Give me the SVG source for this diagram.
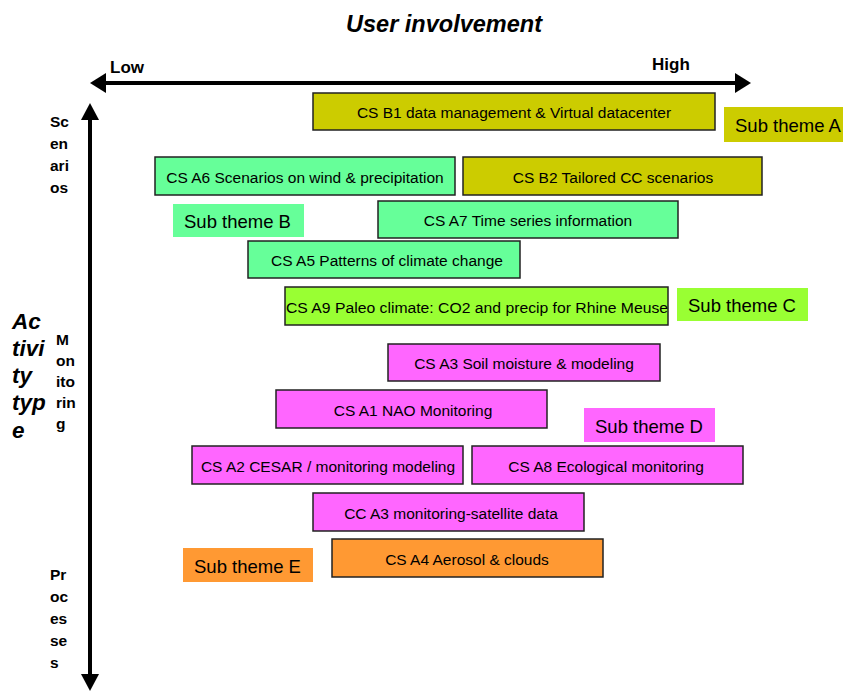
<svg xmlns="http://www.w3.org/2000/svg" width="843" height="693" viewBox="0 0 843 693">
<style>
text{font-family:"Liberation Sans",Arial,sans-serif;fill:#000}
.box{stroke:#222;stroke-width:1.5}
.bt{font-size:15.5px;text-anchor:middle}
.st{font-size:18.5px}
.ax{font-size:17px;font-weight:bold}
.ay{font-size:15.5px;font-weight:bold}
.y{fill:#CCCC00}.g{fill:#66FF99}.l{fill:#99FF33}.m{fill:#FF66FF}.o{fill:#FF9933}
</style>
<rect width="843" height="693" fill="#fff"/>
<g id="axes">
<line x1="100" y1="83" x2="738" y2="83" stroke="#000" stroke-width="4"/>
<polygon points="90,83 106,73 106,93" fill="#000"/>
<polygon points="751,83 735,73 735,93" fill="#000"/>
<line x1="90" y1="117" x2="90" y2="678" stroke="#000" stroke-width="4"/>
<polygon points="90,103 81,120 99,120" fill="#000"/>
<polygon points="90,691 81,674 99,674" fill="#000"/>
</g>
<g id="labels">
<text x="444" y="32" font-size="23.5" font-weight="bold" font-style="italic" text-anchor="middle">User involvement</text>
<text x="110" y="73" class="ax">Low</text>
<text x="652" y="70" class="ax">High</text>
<text class="ay"><tspan x="50" y="127">Sc</tspan><tspan x="50" y="149">en</tspan><tspan x="50" y="171">ari</tspan><tspan x="50" y="193">os</tspan></text>
<text font-size="22.5" font-weight="bold" font-style="italic"><tspan x="12" y="329">Ac</tspan><tspan x="12" y="356">tivi</tspan><tspan x="12" y="383">ty</tspan><tspan x="12" y="410">typ</tspan><tspan x="12" y="438">e</tspan></text>
<text class="ay"><tspan x="56" y="345">M</tspan><tspan x="56" y="366">on</tspan><tspan x="56" y="387">ito</tspan><tspan x="56" y="408">rin</tspan><tspan x="56" y="429">g</tspan></text>
<text class="ay"><tspan x="50" y="580">Pr</tspan><tspan x="50" y="602">oc</tspan><tspan x="50" y="624">es</tspan><tspan x="50" y="646">se</tspan><tspan x="50" y="668">s</tspan></text>
</g>
<g id="B1"><rect class="box y" x="313" y="93" width="402" height="37"/><text class="bt" x="514" y="118">CS B1 data management &amp; Virtual datacenter</text></g>
<g id="subA"><rect class="y" x="724" y="107" width="119" height="35"/><text class="st" x="735" y="132">Sub theme A</text></g>
<g id="A6"><rect class="box g" x="155" y="157" width="300" height="38"/><text class="bt" x="305" y="183">CS A6 Scenarios on wind &amp; precipitation</text></g>
<g id="B2"><rect class="box y" x="463" y="157" width="299" height="38"/><text class="bt" x="613" y="183">CS B2 Tailored CC scenarios</text></g>
<g id="subB"><rect class="g" x="173" y="204" width="131" height="33"/><text class="st" x="184" y="228">Sub theme B</text></g>
<g id="A7"><rect class="box g" x="378" y="201" width="300" height="37"/><text class="bt" x="528" y="226">CS A7 Time series information</text></g>
<g id="A5"><rect class="box g" x="248" y="241" width="272" height="37"/><text class="bt" x="387" y="266">CS A5 Patterns of climate change</text></g>
<g id="A9"><rect class="box l" x="285" y="287" width="383" height="38"/><text class="bt" x="477" y="313" textLength="382" lengthAdjust="spacingAndGlyphs">CS A9   Paleo climate: CO2 and precip for Rhine Meuse</text></g>
<g id="subC"><rect class="l" x="677" y="288" width="131" height="33"/><text class="st" x="688" y="312">Sub theme C</text></g>
<g id="A3"><rect class="box m" x="388" y="344" width="272" height="37"/><text class="bt" x="524" y="369">CS A3 Soil moisture &amp; modeling</text></g>
<g id="A1"><rect class="box m" x="276" y="390" width="271" height="38"/><text class="bt" x="413" y="416">CS A1 NAO Monitoring</text></g>
<g id="subD"><rect class="m" x="584" y="408" width="131" height="34"/><text class="st" x="595" y="433">Sub theme D</text></g>
<g id="A2"><rect class="box m" x="192" y="446" width="271" height="38"/><text class="bt" x="328" y="472">CS A2 CESAR / monitoring modeling</text></g>
<g id="A8"><rect class="box m" x="472" y="446" width="271" height="38"/><text class="bt" x="606" y="472">CS A8 Ecological monitoring</text></g>
<g id="CCA3"><rect class="box m" x="313" y="493" width="271" height="38"/><text class="bt" x="451" y="519">CC A3 monitoring-satellite data</text></g>
<g id="A4"><rect class="box o" x="332" y="539" width="271" height="38"/><text class="bt" x="467" y="565">CS A4 Aerosol &amp; clouds</text></g>
<g id="subE"><rect class="o" x="183" y="548" width="130" height="34"/><text class="st" x="194" y="573">Sub theme E</text></g>
</svg>
